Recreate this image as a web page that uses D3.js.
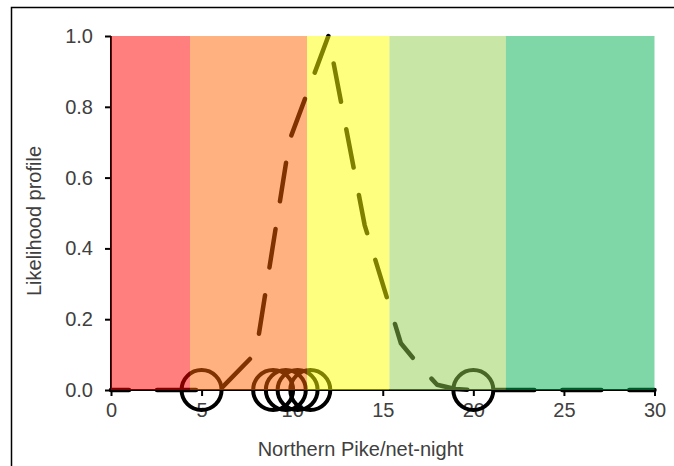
<!DOCTYPE html>
<html>
<head>
<meta charset="utf-8">
<script src="https://cdn.jsdelivr.net/npm/d3@7/dist/d3.min.js"></script>
<style>
  html, body { margin: 0; padding: 0; background: #fff; }
  svg { display: block; }
  text { font-family: "Liberation Sans", Arial, sans-serif; fill: #404040; }
</style>
</head>
<body>
<svg id="chart" width="674" height="466"></svg>
<script>
// ---- data ----
const profileX = [0, 1, 2, 3, 4, 5, 6, 8, 9.86, 12, 14, 16, 17, 18, 19, 20, 22, 24, 26, 28, 30];
const profileY = [0, 0, 0, 0, 0, 0, 0, 0.105, 0.706, 1.0, 0.466, 0.132, 0.07, 0.015, 0.003, 0, 0, 0, 0, 0, 0];
const observedX = [5, 8.95, 9.65, 10.3, 11.0, 20];
const bandStarts = [0, 4.36, 10.82, 15.37, 21.8];
const bandEnds = [4.36, 10.82, 15.37, 21.8, 30];
const bandColors = ["#FF0000", "#FF6600", "#FFFF00", "#92D050", "#00B050"];
const xTicks = [0, 5, 10, 15, 20, 25, 30];
const yTicks = [0, 0.2, 0.4, 0.6, 0.8, 1.0];
const xTitle = "Northern Pike/net-night";
const yTitle = "Likelihood profile";

// ---- layout ----
const svg = d3.select("#chart");
const pLeft = 111, pRight = 654.5, pTop = 36, pBottom = 390;
const x = d3.scaleLinear().domain([0, 30]).range([pLeft, pRight]);
const y = d3.scaleLinear().domain([0, 1]).range([pBottom, pTop]);

// outer frame (top + left visible)
svg.append("path")
  .attr("d", `M11.5,700 L11.5,7.5 L700,7.5`)
  .attr("fill", "none").attr("stroke", "#000").attr("stroke-width", 1.5);

// axes
const xAxis = d3.axisBottom(x).tickValues(xTicks).tickSize(6).tickPadding(6).tickFormat(d3.format("d"));
const yAxis = d3.axisLeft(y).tickValues(yTicks).tickSize(6).tickPadding(12).tickFormat(d3.format(".1f"));

const gx = svg.append("g").attr("transform", `translate(0,${pBottom})`).call(xAxis);
const gy = svg.append("g").attr("transform", `translate(${pLeft},0)`).call(yAxis);
[gx, gy].forEach(g => {
  g.select(".domain").attr("stroke", "#000").attr("stroke-width", 2);
  g.selectAll(".tick line").attr("stroke", "#000").attr("stroke-width", 2);
  g.selectAll(".tick text").attr("font-size", 20).attr("fill", "#404040")
    .attr("font-family", "'Liberation Sans', Arial, sans-serif");
});
gy.select(".domain").attr("d", `M0,${pBottom}V${pTop}`);
gx.select(".domain").attr("d", `M${pLeft},0H${pRight}`);
gx.selectAll(".tick text").attr("dy", "0.75em");

// likelihood profile line
const pts = profileX.map((d, i) => [d, profileY[i]]);
svg.append("path")
  .datum(pts)
  .attr("d", d3.line().x(d => x(d[0])).y(d => y(d[1])))
  .attr("fill", "none")
  .attr("stroke", "#000")
  .attr("stroke-width", 4.5)
  .attr("stroke-linecap", "round")
  .attr("stroke-linejoin", "round")
  .attr("stroke-dasharray", "39,28")
  .attr("stroke-dashoffset", 21);

// observed circles
svg.selectAll("circle.obs")
  .data(observedX)
  .enter().append("circle")
  .attr("class", "obs")
  .attr("cx", d => x(d))
  .attr("cy", y(0))
  .attr("r", 20)
  .attr("fill", "none")
  .attr("stroke", "#000")
  .attr("stroke-width", 4);

// semi-transparent bands on top
svg.selectAll("rect.band")
  .data(bandStarts)
  .enter().append("rect")
  .attr("class", "band")
  .attr("x", d => x(d))
  .attr("y", y(1))
  .attr("width", (d, i) => x(bandEnds[i]) - x(d))
  .attr("height", y(0) - y(1))
  .attr("fill", (d, i) => bandColors[i])
  .attr("fill-opacity", 0.5);

// titles
svg.append("text")
  .attr("x", 360.5).attr("y", 456)
  .attr("text-anchor", "middle")
  .attr("font-size", 20)
  .text(xTitle);

svg.append("text")
  .attr("transform", "translate(41,221) rotate(-90)")
  .attr("text-anchor", "middle")
  .attr("font-size", 20)
  .text(yTitle);
</script>
</body>
</html>
